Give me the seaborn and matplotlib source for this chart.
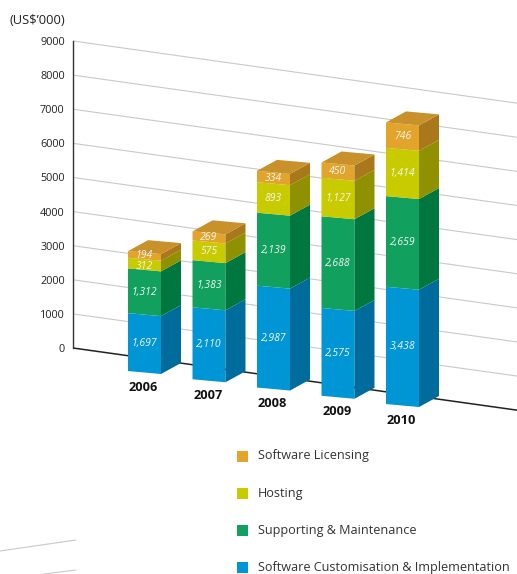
import numpy as np
import pandas as pd
import matplotlib
matplotlib.use("Agg")
import matplotlib.pyplot as plt
from matplotlib.patches import Polygon
from matplotlib.lines import Line2D
from matplotlib.transforms import Affine2D
import seaborn as sns

# ---- data (US$'000) ----
years = ["2006", "2007", "2008", "2009", "2010"]
customisation = [1697, 2110, 2987, 2575, 3438]
support = [1312, 1383, 2139, 2688, 2659]
hosting = [312, 575, 893, 1127, 1414]
licensing = [194, 269, 334, 450, 746]

series_names = ["Software Customisation & Implementation", "Supporting & Maintenance",
                "Hosting", "Software Licensing"]
y_ticks = [0, 1000, 2000, 3000, 4000, 5000, 6000, 7000, 8000, 9000]

# colours: front, side, top
front_cols = ["#0096D6", "#12A05E", "#C8CB00", "#E3A42C"]
side_cols = ["#006C9C", "#00773F", "#909100", "#A9781B"]
top_col = "#C8912A"

sns.set_theme(style="white")
plt.rcParams["font.family"] = ["Open Sans", "DejaVu Sans"]

W, H = 517, 574
fig = plt.figure(figsize=(W / 100, H / 100), dpi=100)

# geometry of the drawing (pixel based horizontally, value based vertically)
AX_LEFT = 73
ZERO_PX, TOP_PX = 348, 41
PPU = (ZERO_PX - TOP_PX) / 9000.0          # pixels per unit value
GRID_SLOPE = 0.14                           # back wall lines drop to the right
BASE_SLOPE = 0.128
BASE_DROP = 16
FRONT_SLOPE = 0.09
BAR_W = 33
SPACING = 64.5
FIRST_LEFT = 128
DEPTH_X, DEPTH_Y = 20, 11 / PPU
LABEL_GAP = 10.5 / PPU                      # minimum spacing between value labels

ax = fig.add_axes([AX_LEFT / W, 0, (W - AX_LEFT) / W, 1])
ax.set_xlim(AX_LEFT, W)
ax.set_ylim((ZERO_PX - H) / PPU, ZERO_PX / PPU)

# grid lines on the back wall
x_end = W
for v in y_ticks:
    y_end = v - GRID_SLOPE * (x_end - AX_LEFT) / PPU
    col = "#222222" if v == 0 else "#C9C9C9"
    lw = 1.1 if v == 0 else 0.8
    ax.plot([AX_LEFT, x_end], [v, y_end], color=col, lw=lw, solid_capstyle="butt", zorder=1)

# y axis
for s in ["top", "right", "bottom"]:
    ax.spines[s].set_visible(False)
ax.spines["left"].set_bounds(0, 9000)
ax.spines["left"].set_color("#333333")
ax.spines["left"].set_linewidth(1.0)
ax.set_yticks(y_ticks)
ax.set_yticklabels([str(t) for t in y_ticks], fontsize=7.8, color="#222222")
ax.tick_params(axis="y", length=0, pad=6)
ax.set_xticks([])

# bar positions and bases
n = len(years)
lefts = FIRST_LEFT + SPACING * np.arange(n)
centers = lefts + BAR_W / 2
rights = lefts + BAR_W
bases = -(BASE_SLOPE * (lefts - AX_LEFT) + BASE_DROP) / PPU

k = FRONT_SLOPE / PPU
shear = Affine2D(np.array([[1, 0, 0], [-k, 1, 0], [0, 0, 1]]))

stack = [customisation, support, hosting, licensing]
label_pos = [[] for _ in range(n)]
bottom = np.zeros(n)
for si, vals in enumerate(stack):
    vals = np.asarray(vals, dtype=float)
    df = pd.DataFrame({"x": centers, "v": vals})
    before = len(ax.patches)
    sns.barplot(data=df, x="x", y="v", native_scale=True, width=BAR_W / SPACING,
                bottom=bases + bottom + k * lefts, color=front_cols[si],
                saturation=1, errorbar=None, linewidth=0, ax=ax, zorder=3)
    for p in ax.patches[before:]:
        p.set_transform(shear + ax.transData)
        p.set_edgecolor("none")
    for i in range(n):
        y0 = bases[i] + bottom[i] - k * BAR_W
        y1 = y0 + vals[i]
        side = Polygon([(rights[i], y0), (rights[i] + DEPTH_X, y0 + DEPTH_Y),
                        (rights[i] + DEPTH_X, y1 + DEPTH_Y), (rights[i], y1)],
                       closed=True, facecolor=side_cols[si], edgecolor="none", zorder=3)
        ax.add_patch(side)
        ym = bases[i] + bottom[i] + vals[i] / 2 - k * BAR_W / 2
        label_pos[i].append((ym, f"{int(vals[i]):,}"))
    bottom = bottom + vals

# value labels on the front faces; thin segments push the label below downwards
for i in range(n):
    placed = []
    for ym, txt in reversed(label_pos[i]):
        if placed and placed[-1] - ym < LABEL_GAP:
            ym = placed[-1] - LABEL_GAP
        placed.append(ym)
        ax.text(centers[i], ym, txt, ha="center", va="center",
                fontsize=7.5, fontstyle="italic", color="#F4F4F4", zorder=5)

# top faces and year labels
for i in range(n):
    yl = bases[i] + bottom[i]
    yr = yl - k * BAR_W
    top = Polygon([(lefts[i], yl), (rights[i], yr), (rights[i] + DEPTH_X, yr + DEPTH_Y),
                   (lefts[i] + DEPTH_X, yl + DEPTH_Y)],
                  closed=True, facecolor=top_col, edgecolor="none", zorder=3)
    ax.add_patch(top)
    ax.text(centers[i] - 1, bases[i] - 16 / PPU, years[i], ha="center", va="center",
            fontsize=9.2, fontweight="bold", color="#111111", zorder=5)

ax.set_xlabel("")
ax.set_ylabel("")
ax.set_xlim(AX_LEFT, W)
ax.set_ylim((ZERO_PX - H) / PPU, ZERO_PX / PPU)
if ax.get_legend() is not None:
    ax.get_legend().remove()

# unit label
fig.text(10 / W, 1 - 20 / H, "(US$\u2019000)", fontsize=9.3, color="#222222",
         ha="left", va="center")

# legend (top to bottom)
legend_rows = [(series_names[3], front_cols[3]), (series_names[2], front_cols[2]),
               (series_names[1], front_cols[1]), (series_names[0], front_cols[0])]
for r, (name, col) in enumerate(legend_rows):
    yc = 456 + 37.2 * r
    fig.patches.append(plt.Rectangle((237 / W, 1 - (yc + 5.5) / H), 11 / W, 11 / H,
                                     transform=fig.transFigure, facecolor=col,
                                     edgecolor="none"))
    fig.text(258 / W, 1 - yc / H, name, fontsize=9.1, color="#333333",
             ha="left", va="center")

# faint floor lines at the lower left
for (xa, ya, xb, yb) in [(0, 551, 76, 540), (44, 574, 76, 570)]:
    fig.add_artist(Line2D([xa / W, xb / W], [1 - ya / H, 1 - yb / H],
                          transform=fig.transFigure, color="#C9C9C9", lw=0.8))

fig.savefig("out.png", dpi=100)
